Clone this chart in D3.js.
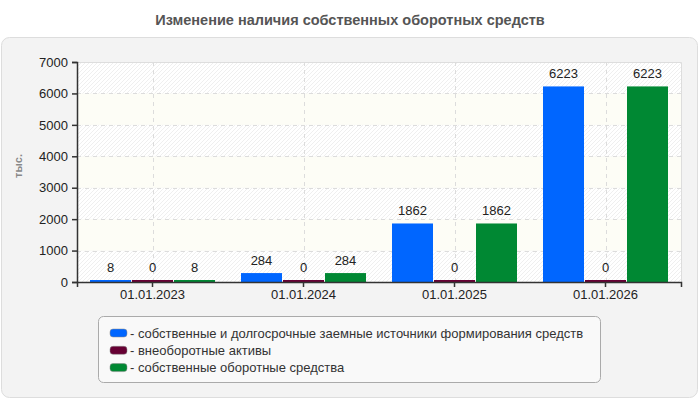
<!DOCTYPE html>
<html>
<head>
<meta charset="utf-8">
<script src="https://cdn.jsdelivr.net/npm/d3@7"></script>
<style>
  body { margin: 0; background: #fff; }
  text { font-family: "Liberation Sans", Arial, sans-serif; }
</style>
</head>
<body>
<div id="chart"></div>
<script>
// data
var categories = ['01.01.2023', '01.01.2024', '01.01.2025', '01.01.2026'];
var seriesNames = [
    'собственные и долгосрочные заемные источники формирования средств',
    'внеоборотные активы',
    'собственные оборотные средства'
];
var sourcesValues = [8, 284, 1862, 6223];
var fixedAssetsValues = [0, 0, 0, 0];
var workingCapitalValues = [8, 284, 1862, 6223];
var yTicks = [0, 1000, 2000, 3000, 4000, 5000, 6000, 7000];
var colors = ['#0066ff', '#660033', '#008833'];

var allSeries = [sourcesValues, fixedAssetsValues, workingCapitalValues];

var dim = { width: 700, height: 400 };
var plot = { left: 77, right: 681, top: 62, bottom: 282 };

var svg = d3.select('#chart').append('svg')
    .attr('width', dim.width)
    .attr('height', dim.height);

var defs = svg.append('defs');
var pat = defs.append('pattern')
    .attr('id', 'hatch')
    .attr('patternUnits', 'userSpaceOnUse')
    .attr('width', 4).attr('height', 4);
pat.append('rect').attr('width', 4).attr('height', 4).attr('fill', '#ffffff');
pat.append('path')
    .attr('d', 'M-1,1 l2,-2 M0,4 l4,-4 M3,5 l2,-2')
    .attr('stroke', '#efefef')
    .attr('stroke-width', 1);

// title
svg.append('text')
    .attr('x', 350).attr('y', 25)
    .attr('text-anchor', 'middle')
    .attr('font-size', 14.5)
    .attr('font-weight', 'bold')
    .attr('fill', '#555')
    .text('Изменение наличия собственных оборотных средств');

// panel
svg.append('rect')
    .attr('x', 1.5).attr('y', 37.5)
    .attr('width', 696).attr('height', 360)
    .attr('rx', 8)
    .attr('fill', '#f3f3f3')
    .attr('stroke', '#dddddd');

var x = d3.scaleBand()
    .domain(categories)
    .range([plot.left, plot.right]);

var x1 = d3.scaleBand()
    .domain(d3.range(allSeries.length))
    .range([13, x.bandwidth() - 13])
    .paddingInner(0.024);

var y = d3.scaleLinear()
    .domain([0, 7000])
    .range([plot.bottom, plot.top]);

// background bands
var bands = d3.pairs(yTicks);
svg.append('g').selectAll('rect')
    .data(bands)
    .join('rect')
    .attr('x', plot.left)
    .attr('width', plot.right - plot.left)
    .attr('y', d => y(d[1]))
    .attr('height', d => y(d[0]) - y(d[1]))
    .attr('fill', (d, i) => i % 2 == 0 ? 'url(#hatch)' : '#fdfdf6');

// grid
var grid = svg.append('g')
    .attr('stroke', '#dcdcdc')
    .attr('stroke-dasharray', '4,4');
grid.selectAll('.hg')
    .data(yTicks.slice(1, -1))
    .join('line')
    .attr('x1', plot.left).attr('x2', plot.right)
    .attr('y1', d => Math.round(y(d)) + 0.5)
    .attr('y2', d => Math.round(y(d)) + 0.5);
grid.selectAll('.vg')
    .data(categories)
    .join('line')
    .attr('x1', d => Math.round(x(d) + x.bandwidth() / 2) + 0.5)
    .attr('x2', d => Math.round(x(d) + x.bandwidth() / 2) + 0.5)
    .attr('y1', plot.top).attr('y2', plot.bottom);

// top/right border
svg.append('path')
    .attr('d', 'M' + plot.left + ',' + (plot.top + 0.5) + 'H' + (plot.right + 0.5) + 'V' + plot.bottom)
    .attr('fill', 'none')
    .attr('stroke', '#dddddd');

// bars
var groups = svg.append('g').selectAll('g')
    .data(categories)
    .join('g')
    .attr('transform', d => 'translate(' + x(d) + ',0)');

var barData = (c, ci) => allSeries.map((vals, si) => ({ s: si, v: vals[ci] }));

groups.selectAll('rect')
    .data(barData)
    .join('rect')
    .attr('x', d => x1(d.s))
    .attr('width', x1.bandwidth())
    .attr('y', d => Math.min(y(d.v), plot.bottom - 2))
    .attr('height', d => Math.max(plot.bottom - y(d.v), 2))
    .attr('fill', d => colors[d.s]);

groups.selectAll('text')
    .data(barData)
    .join('text')
    .attr('x', d => x1(d.s) + x1.bandwidth() / 2)
    .attr('y', d => Math.min(y(d.v), plot.bottom - 2) - 8)
    .attr('text-anchor', 'middle')
    .attr('font-size', 13)
    .attr('fill', '#222')
    .text(d => d.v);

// axes
var yAxis = svg.append('g')
    .attr('transform', 'translate(' + plot.left + ',0)')
    .call(d3.axisLeft(y).tickValues(yTicks).tickSize(5).tickPadding(4).tickFormat(d3.format('d')));
var xAxis = svg.append('g')
    .attr('transform', 'translate(0,' + plot.bottom + ')')
    .call(d3.axisBottom(x).tickSize(5).tickPadding(3));

[yAxis, xAxis].forEach(a => {
    a.select('.domain').attr('stroke', '#333').attr('stroke-width', 1.5);
    a.selectAll('.tick line').attr('stroke', '#333').attr('stroke-width', 1.5);
    a.selectAll('.tick text')
        .attr('font-size', 13)
        .attr('font-family', '"Liberation Sans", Arial, sans-serif')
        .attr('fill', '#222');
});

// y label
svg.append('text')
    .attr('transform', 'translate(22,166) rotate(-90)')
    .attr('text-anchor', 'middle')
    .attr('font-size', 11)
    .attr('font-weight', 'bold')
    .attr('fill', '#888')
    .text('тыс.');

// legend
svg.append('rect')
    .attr('x', 98.5).attr('y', 316.5)
    .attr('width', 502).attr('height', 66)
    .attr('rx', 5)
    .attr('fill', '#f9f9f9')
    .attr('stroke', '#aaaaaa');

var legend = svg.append('g').selectAll('g')
    .data(seriesNames)
    .join('g')
    .attr('transform', (d, i) => 'translate(110,' + (333 + i * 17.3) + ')');
legend.append('rect')
    .attr('x', 0).attr('y', -4)
    .attr('width', 17).attr('height', 8)
    .attr('rx', 3)
    .attr('fill', (d, i) => colors[i])
    .attr('stroke', '#888')
    .attr('stroke-width', 0.5);
legend.append('text')
    .attr('x', 20).attr('y', 4.5)
    .attr('font-size', 13)
    .attr('fill', '#333')
    .text(d => '- ' + d);
</script>
</body>
</html>
